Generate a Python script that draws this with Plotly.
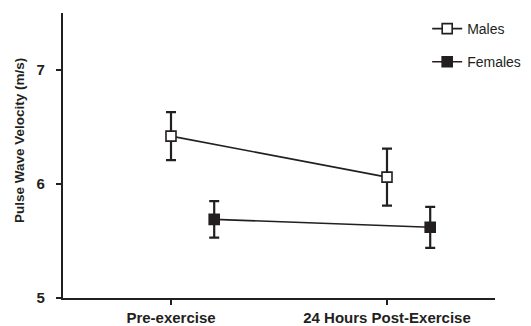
import plotly.graph_objects as go

categories = ["Pre-exercise", "24 Hours Post-Exercise"]
males = [6.42, 6.06]
males_err = [0.21, 0.25]
females = [5.69, 5.62]
females_err = [0.16, 0.18]
y_ticks = [5, 6, 7]
y_title = "Pulse Wave Velocity (m/s)"

INK = "#231f20"
xidx = list(range(len(categories)))
fem_offset = 0.2

fig = go.Figure()
fig.add_trace(go.Scatter(
    x=xidx, y=males, name="Males", mode="lines+markers",
    line=dict(color=INK, width=1.6),
    marker=dict(symbol="square", size=10, color="white", line=dict(color=INK, width=1.6)),
    error_y=dict(type="data", array=males_err, color=INK, thickness=2.2, width=5),
    legendgroup="m",
))
fig.add_trace(go.Scatter(
    x=[i + fem_offset for i in xidx], y=females, name="Females", mode="lines+markers",
    line=dict(color=INK, width=1.6),
    marker=dict(symbol="square", size=10, color=INK, line=dict(color=INK, width=1.6)),
    error_y=dict(type="data", array=females_err, color=INK, thickness=2.2, width=5),
    legendgroup="f",
))

fig.add_annotation(
    text=y_title, textangle=-90, xref="paper", yref="paper",
    x=-0.0995, y=0.551, xanchor="center", yanchor="middle", showarrow=False,
    font=dict(size=13.5, weight="bold", color=INK),
)

fig.update_layout(
    width=523, height=318,
    margin=dict(l=55, r=36, t=5, b=28, autoexpand=False),
    paper_bgcolor="white", plot_bgcolor="white",
    font=dict(family="Liberation Sans, Arial, sans-serif", color=INK),
    showlegend=True,
    legend=dict(x=0.843, y=1.0, xanchor="left", yanchor="top",
                font=dict(size=14), tracegroupgap=12,
                bgcolor="rgba(0,0,0,0)"),
    xaxis=dict(range=[-0.5, 1.5], tickvals=xidx, ticktext=categories, automargin=False,
               showline=True, linecolor=INK, linewidth=2.2, showgrid=False, zeroline=False,
               ticks="outside", ticklen=5, tickwidth=2, tickcolor=INK,
               tickfont=dict(size=15, weight="bold"), fixedrange=True),
    yaxis=dict(range=[5, 7.5], tickvals=y_ticks, automargin=False,
               showline=True, linecolor=INK, linewidth=2.2, showgrid=False, zeroline=False,
               ticks="outside", ticklen=5, tickwidth=2, tickcolor=INK,
               ticklabelstandoff=8,
               tickfont=dict(size=15, weight="bold")),
)

fig.write_html("out.html")
